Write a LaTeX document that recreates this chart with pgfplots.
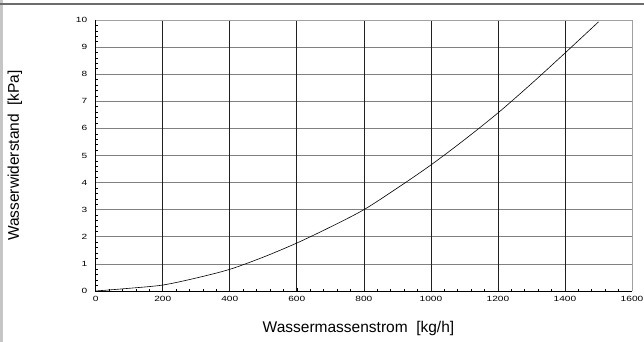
\documentclass[border=0pt]{standalone}
\usepackage{pgfplots}
\pgfplotsset{compat=1.18}
\usepackage{fontspec}
\setmainfont{Liberation Sans}
\setsansfont{Liberation Sans}
\newfontfamily\tickfont[FakeStretch=1.35]{Liberation Sans}

\definecolor{hgrid}{HTML}{808080}
\definecolor{vgrid}{HTML}{202020}
\definecolor{framegray}{HTML}{A0A0A0}

\begin{document}
\begin{tikzpicture}[x=1pt,y=1pt]
  % page frame
  \useasboundingbox (0,0) rectangle (644,342);
  \fill[gray!45] (0,0) rectangle (3.2,342);
  \draw[gray!85!black, line width=1.4pt] (0,338) -- (644,338);

  \begin{axis}[
    at={(95.7pt,51pt)}, anchor=south west,
    scale only axis,
    width=536.3pt, height=271pt,
    xmin=0, xmax=1600, ymin=0, ymax=10,
    xtick={0,200,...,1600},
    ytick={0,1,...,10},
    minor x tick num=4,
    minor y tick num=4,
    xtick pos=bottom, ytick pos=left,
    tick align=inside,
    major tick length=3pt,
    minor tick length=2pt,
    tick style={black, line width=0.6pt},
    axis line style={draw=none},
    every tick label/.append style={font=\tickfont\fontsize{7.5}{8}\selectfont},
    /pgf/number format/assume math mode=true,
    scaled x ticks=false,
    /pgf/number format/1000 sep={},
    xticklabel style={yshift=-2pt},
    yticklabel style={xshift=-5pt},
    xlabel={Wassermassenstrom\ \ [kg/h]},
    ylabel={Wasserwiderstand\ \ [kPa]},
    label style={font=\fontsize{15.5}{17}\selectfont},
    xlabel style={at={(axis description cs:0.49,0)}, anchor=center, yshift=-37pt},
    ylabel style={at={(axis description cs:-0.1506,0.5)}, anchor=center},
    clip=false,
  ]
    % grid
    \foreach \yv in {1,...,9} {
      \edef\tmp{\noexpand\draw[hgrid, line width=0.7pt] (axis cs:0,\yv) -- (axis cs:1600,\yv);}
      \tmp
    }
    \foreach \xv in {200,400,...,1400} {
      \edef\tmp{\noexpand\draw[vgrid, line width=0.7pt] (axis cs:\xv,0) -- (axis cs:\xv,10);}
      \tmp
    }
    % frame
    \draw[framegray, line width=0.8pt] (axis cs:0,10) -- (axis cs:1600,10) -- (axis cs:1600,0);
    \draw[black, line width=0.8pt] (axis cs:0,10) -- (axis cs:0,0) -- (axis cs:1600,0);

    \addplot[black, line width=0.6pt, smooth] coordinates {
      (0,0) (100,0.1) (200,0.22) (300,0.48) (400,0.8) (500,1.25)
      (600,1.77) (700,2.36) (800,3.0) (900,3.8) (1000,4.65)
      (1100,5.58) (1200,6.57) (1300,7.65) (1400,8.78) (1500,9.93)
    };
  \end{axis}
\end{tikzpicture}
\end{document}
